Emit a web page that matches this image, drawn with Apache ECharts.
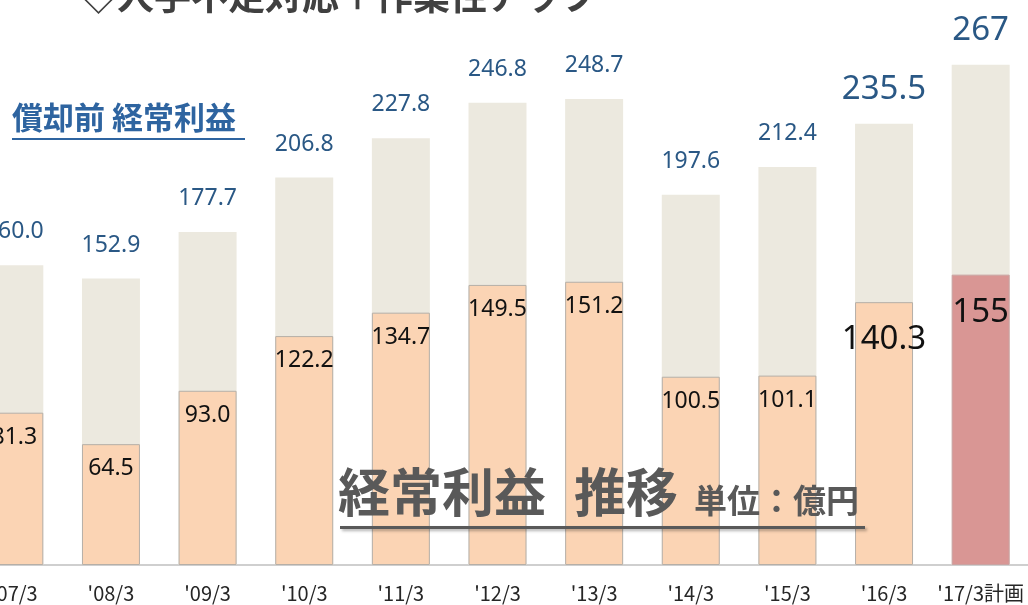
<!DOCTYPE html>
<html>
<head>
<meta charset="utf-8">
<script src="https://cdn.jsdelivr.net/npm/echarts@6/dist/echarts.min.js"></script>
<style>
    html, body { margin: 0; padding: 0; background: #fff; }
    #picture { width: 1028px; height: 605px; }
</style>
</head>
<body>
<div id="picture"></div>
<script>
    // データ
    var categories = ["'07/3", "'08/3", "'09/3", "'10/3", "'11/3", "'12/3", "'13/3", "'14/3", "'15/3", "'16/3", "'17/3計画"];
    var preDepreciation = [160.0, 152.9, 177.7, 206.8, 227.8, 246.8, 248.7, 197.6, 212.4, 235.5, 267];
    var ordinaryProfit = [81.3, 64.5, 93.0, 122.2, 134.7, 149.5, 151.2, 100.5, 101.1, 140.3, 155];
    var bigLabelIndex = [9, 10];   // 大きい数字
    var planIndex = 10;            // 計画

    var cjk = '"Noto Sans CJK JP", "Noto Sans", sans-serif';
    var num = '"Noto Sans", sans-serif';

    var fmt = function(v, i) {
        return i === planIndex ? String(v) : v.toFixed(1);
    };

    var totalData = preDepreciation.map(function(v, i) {
        var big = bigLabelIndex.indexOf(i) >= 0;
        return {
            value: v,
            label: {
                fontSize: big ? 33 : 23,
                distance: big ? 18 : 22
            }
        };
    });
    var profitData = ordinaryProfit.map(function(v, i) {
        var big = bigLabelIndex.indexOf(i) >= 0;
        var item = {
            value: v,
            label: {
                fontSize: big ? 33 : 23,
                distance: big ? 21 : 13
            }
        };
        if (i === planIndex) {
            item.itemStyle = { color: '#D99694', borderColor: '#C9A3A2' };
        }
        return item;
    });

    var shadow = {
        shadowColor: 'rgba(0,0,0,0.3)',
        shadowBlur: 3,
        shadowOffsetX: 2,
        shadowOffsetY: 2
    };
    var withShadow = function(style) {
        for (var k in shadow) style[k] = shadow[k];
        return style;
    };

    var myChart = echarts.init(document.getElementById('picture'));
    var option = {
        animation: false,
        backgroundColor: '#fff',
        grid: {
            left: -34,
            right: -1,
            top: 3,
            bottom: 40,
            outerBoundsMode: 'none'
        },
        xAxis: {
            type: 'category',
            data: categories,
            axisTick: { show: false },
            axisLine: { lineStyle: { color: '#BFBFBF', width: 1.5 } },
            axisLabel: {
                interval: 0,
                color: '#262626',
                fontFamily: cjk,
                fontSize: 20,
                margin: 18
            }
        },
        yAxis: {
            type: 'value',
            min: 0,
            max: 300,
            show: false,
            splitLine: { show: false }
        },
        series: [{
            name: '償却前 経常利益',
            type: 'bar',
            barWidth: '60%',
            barGap: '-100%',
            data: totalData,
            itemStyle: { color: '#ECE9DF' },
            label: {
                show: true,
                position: 'top',
                color: '#2A5885',
                fontFamily: num,
                formatter: function(p) { return fmt(p.value, p.dataIndex); }
            },
            z: 1
        }, {
            name: '経常利益',
            type: 'bar',
            barWidth: '60%',
            data: profitData,
            itemStyle: {
                color: '#FBD4B4',
                borderColor: '#B5AFA8',
                borderWidth: 1
            },
            label: {
                show: true,
                position: 'insideTop',
                color: '#111',
                fontFamily: num,
                formatter: function(p) { return fmt(p.value, p.dataIndex); }
            },
            z: 2
        }],
        graphic: [{
            type: 'text',
            left: 80,
            top: -23,
            z: 10,
            style: withShadow({
                text: '◇人手不足対応＋作業性アップ',
                font: 'bold 37px ' + cjk,
                fill: '#404040'
            })
        }, {
            type: 'text',
            left: 12,
            top: 102,
            z: 10,
            style: {
                text: '償却前 経常利益',
                font: 'bold 31px ' + cjk,
                fill: '#2E64A0'
            }
        }, {
            type: 'rect',
            shape: { x: 12, y: 138, width: 233, height: 2 },
            style: { fill: '#2E64A0' },
            z: 10
        }, {
            type: 'text',
            left: 338,
            top: 466,
            z: 10,
            style: withShadow({
                text: '経常利益',
                font: 'bold 52px ' + cjk,
                fill: '#595959'
            })
        }, {
            type: 'text',
            left: 574,
            top: 466,
            z: 10,
            style: withShadow({
                text: '推移',
                font: 'bold 52px ' + cjk,
                fill: '#595959'
            })
        }, {
            type: 'text',
            left: 694,
            top: 484,
            z: 10,
            style: withShadow({
                text: '単位：億円',
                font: 'bold 33px ' + cjk,
                fill: '#595959'
            })
        }, {
            type: 'rect',
            shape: { x: 340, y: 526, width: 525, height: 3 },
            style: withShadow({ fill: '#595959' }),
            z: 10
        }]
    };
    myChart.setOption(option);
</script>
</body>
</html>
